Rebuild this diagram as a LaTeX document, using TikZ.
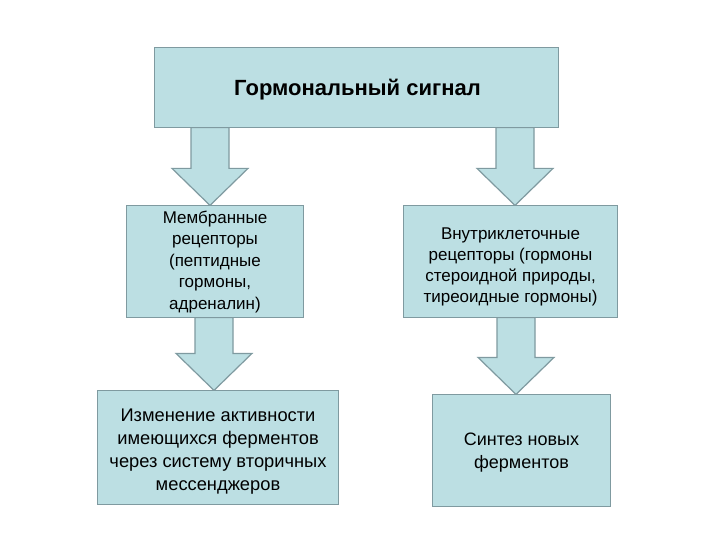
\documentclass[tikz,border=0pt]{standalone}
\usepackage{fontspec}
\setmainfont{Liberation Sans}
\usetikzlibrary{calc}
\definecolor{boxfill}{HTML}{BCDFE3}
\definecolor{boxline}{HTML}{7F9AA0}
\tikzset{
  box/.style={draw=boxline, fill=boxfill, line width=1.2pt, rectangle, align=center, inner sep=0pt},
  barrowstyle/.style={draw=boxline, fill=boxfill, line width=1.2pt, line join=miter},
  txt/.style={align=center, inner sep=0pt},
}
\newcommand\blockarrow[3]{%
  \path (#1,0) coordinate (ax);
  \coordinate (as) at (ax |- #2.south);
  \coordinate (at) at (ax |- #3.north);
  \draw[barrowstyle] ($(as)+(-19,0)$) -- ($(at)+(-19,-37)$) -- ($(at)+(-38,-37)$) -- (at)
     -- ($(at)+(38,-37)$) -- ($(at)+(19,-37)$) -- ($(as)+(19,0)$) -- cycle;
}
\begin{document}
\begin{tikzpicture}[x=1pt,y=-1pt]
\useasboundingbox[fill=white] (0,0) rectangle (720,540);
% boxes (named nodes)
\node[box, minimum width=403pt, minimum height=79pt] (top) at (356.5,87.5) {};
\node[box, minimum width=176pt, minimum height=111pt] (ml) at (215,261.5) {};
\node[box, minimum width=213pt, minimum height=111pt] (mr) at (510.5,261.5) {};
\node[box, minimum width=240pt, minimum height=113pt] (bl) at (218,447.5) {};
\node[box, minimum width=177pt, minimum height=111pt] (br) at (521.5,450.5) {};
% arrows
\blockarrow{210}{top}{ml}
\blockarrow{515}{top}{mr}
\blockarrow{214}{ml}{bl}
\blockarrow{516}{mr}{br}
% boxes redrawn on top of the arrow shafts
\foreach \n in {top,ml,mr,bl,br}{
  \draw[draw=boxline, fill=boxfill, line width=1.2pt] (\n.north west) rectangle (\n.south east);
}
% texts
\node[txt, font=\fontsize{22}{26}\selectfont\bfseries] (ttop) at ($(top.center)+(1,2.5)$) {Гормональный сигнал};
\node[txt, font=\fontsize{17}{21.5}\selectfont] (tml) at ($(ml.center)+(0,0.5)$) {Мембранные\\рецепторы\\(пептидные\\гормоны,\\адреналин)};
\node[txt, font=\fontsize{17}{21}\selectfont] (tmr) at ($(mr.center)+(0,5)$) {Внутриклеточные\\рецепторы (гормоны\\стероидной природы,\\тиреоидные гормоны)};
\node[txt, font=\fontsize{18.3}{23}\selectfont] (tbl) at ($(bl.center)+(0,4.5)$) {Изменение активности\\имеющихся ферментов\\через систему вторичных\\мессенджеров};
\node[txt, font=\fontsize{18}{23}\selectfont] (tbr) at ($(br.center)+(0,2)$) {Синтез новых\\ферментов};
\end{tikzpicture}
\end{document}
